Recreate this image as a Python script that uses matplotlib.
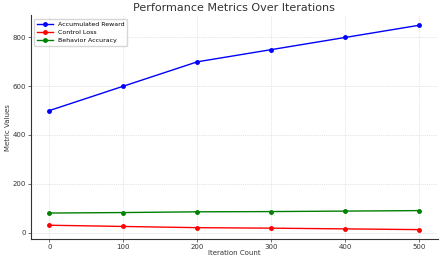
import matplotlib.pyplot as plt

iterations = [0, 100, 200, 300, 400, 500]
accumulated_reward = [500, 600, 700, 750, 800, 850]
control_loss = [30, 25, 20, 18, 15, 12]
behavior_accuracy = [80, 82, 85, 86, 88, 90]

fig, ax = plt.subplots(figsize=(4.4, 2.58), dpi=100)

ax.plot(iterations, accumulated_reward, marker="o", markersize=2.5, linewidth=1, color="blue", label="Accumulated Reward")
ax.plot(iterations, control_loss, marker="o", markersize=2.5, linewidth=1, color="red", label="Control Loss")
ax.plot(iterations, behavior_accuracy, marker="o", markersize=2.5, linewidth=1, color="green", label="Behavior Accuracy")

ax.set_title("Performance Metrics Over Iterations", fontsize=8, color="#333333", pad=3)
ax.set_xlabel("Iteration Count", fontsize=5, labelpad=0.5, color="#333333")
ax.set_ylabel("Metric Values", fontsize=5, labelpad=1, color="#333333")
ax.set_xticks(iterations)
ax.set_yticks([0, 200, 400, 600, 800])
ax.set_xlim(-25, 525)
ax.set_ylim(-25, 890)
ax.tick_params(labelsize=5, length=2, width=0.5, pad=1.5, colors="#333333")
ax.grid(True, linestyle=":", linewidth=0.5, color="#cccccc")
for side in ["top", "right"]:
    ax.spines[side].set_visible(False)
for side in ["left", "bottom"]:
    ax.spines[side].set_linewidth(0.8)
    ax.spines[side].set_color("#333333")

ax.legend(loc="upper left", fontsize=4.5, frameon=True, handlelength=2.5, borderpad=0.5, labelspacing=0.4)

fig.subplots_adjust(left=0.07, right=0.995, top=0.94, bottom=0.075)
fig.savefig("out.png", dpi=100)
